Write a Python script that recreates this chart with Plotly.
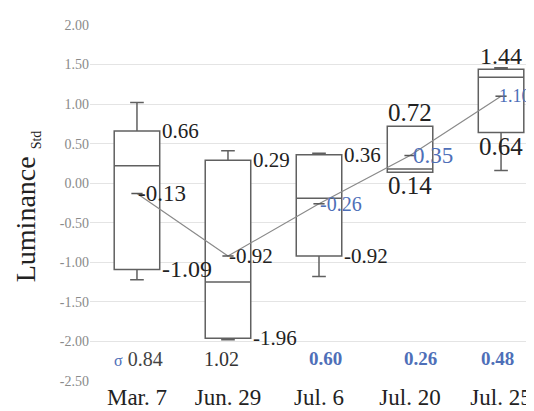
import plotly.graph_objects as go

# ---------------- data ----------------
categories = ["Mar. 7", "Jun. 29", "Jul. 6", "Jul. 20", "Jul. 25"]
q1 = [-1.09, -1.96, -0.92, 0.14, 0.64]
median = [0.22, -1.25, -0.19, 0.18, 1.34]
q3 = [0.66, 0.29, 0.36, 0.72, 1.44]
lower_whisker = [-1.22, -1.98, -1.18, 0.14, 0.16]
upper_whisker = [1.02, 0.41, 0.38, 0.72, 1.46]
means = [-0.13, -0.92, -0.26, 0.35, 1.10]
sigma = [0.84, 1.02, 0.60, 0.26, 0.48]
y_ticks = [2.0, 1.5, 1.0, 0.5, 0.0, -0.5, -1.0, -1.5, -2.0, -2.5]

# ---------------- styles ----------------
SERIF = "Liberation Serif"
BLUE = "#4e6fb8"
DARK = "#222222"
xpos = list(range(len(categories)))

fig = go.Figure()

fig.add_trace(go.Box(
    x=xpos, q1=q1, median=median, q3=q3,
    lowerfence=lower_whisker, upperfence=upper_whisker,
    width=0.5, whiskerwidth=0.3, fillcolor="white",
    line=dict(color="#606060", width=1.5),
    boxpoints=False, showlegend=False, hoverinfo="skip",
))

fig.add_trace(go.Scatter(
    x=xpos, y=means, mode="lines+markers",
    line=dict(color="#8a8a8a", width=1.2),
    marker=dict(symbol="line-ew", size=8, line=dict(color="#555555", width=1.5)),
    showlegend=False, hoverinfo="skip",
))

annotations = []

# quartile labels
side_right = [True, True, True, False, False]
q3_fs = [21, 21, 21, 25, 24]
q1_fs = [24, 21, 21, 25, 25]
for i in xpos:
    if side_right[i]:
        annotations.append(dict(x=i + 0.25, y=q3[i], xref="x", yref="y", text=f"{q3[i]:.2f}",
                                showarrow=False, xanchor="left", yanchor="middle", xshift=0,
                                font=dict(family=SERIF, size=q3_fs[i], color=DARK)))
        annotations.append(dict(x=i + 0.25, y=q1[i], xref="x", yref="y", text=f"{q1[i]:.2f}",
                                showarrow=False, xanchor="left", yanchor="middle", xshift=0,
                                font=dict(family=SERIF, size=q1_fs[i], color=DARK)))
    else:
        annotations.append(dict(x=i, y=q3[i], xref="x", yref="y", text=f"{q3[i]:.2f}",
                                showarrow=False, xanchor="center", yanchor="bottom", yshift=-2,
                                font=dict(family=SERIF, size=q3_fs[i], color=DARK)))
        annotations.append(dict(x=i, y=q1[i], xref="x", yref="y", text=f"{q1[i]:.2f}",
                                showarrow=False, xanchor="center", yanchor="top", yshift=2,
                                font=dict(family=SERIF, size=q1_fs[i], color=DARK)))

# mean labels
mean_colors = [DARK, DARK, BLUE, BLUE, BLUE]
mean_fs = [23, 21, 20, 23, 18]
mean_xshift = [-1, -1, -1, 1, -4]
for i in xpos:
    annotations.append(dict(x=i, y=means[i], xref="x", yref="y", text=f"{means[i]:.2f}",
                            showarrow=False, xanchor="left", yanchor="middle",
                            xshift=mean_xshift[i],
                            font=dict(family=SERIF, size=mean_fs[i], color=mean_colors[i])))

# sigma row
sig_colors = ["#444444", "#333333", BLUE, BLUE, BLUE]
sig_bold = [False, False, True, True, True]
sig_shift = [2, -6, 6, 10, -4]
for i in xpos:
    t = f"{sigma[i]:.2f}"
    if sig_bold[i]:
        t = f"<b>{t}</b>"
    if i == 0:
        t = f"<span style='color:{BLUE};font-size:16px'>σ</span> " + t
    annotations.append(dict(x=i, y=-2.22, xref="x", yref="y", text=t, showarrow=False,
                            xanchor="center", yanchor="middle", xshift=sig_shift[i],
                            font=dict(family=SERIF, size=19 if sig_bold[i] else 20, color=sig_colors[i])))

# y-axis title
annotations.append(dict(x=-0.14, y=0.49, xref="paper", yref="paper",
                        text="Luminance <sub><span style='font-size:14px'>Std</span></sub>",
                        textangle=-90, showarrow=False, xanchor="center", yanchor="middle",
                        font=dict(family=SERIF, size=28, color=DARK)))

fig.update_layout(
    width=534, height=411,
    margin=dict(l=82, r=0, t=17, b=38),
    paper_bgcolor="white", plot_bgcolor="white",
    annotations=annotations,
    xaxis=dict(range=[-0.516, 4.45], tickvals=xpos, ticktext=categories,
               tickfont=dict(family=SERIF, size=23, color=DARK), automargin=False,
               showgrid=False, zeroline=False, showline=False, ticks=""),
    yaxis=dict(range=[-2.5, 2.0], tickvals=y_ticks, ticktext=[f"{v:.2f}" for v in y_ticks],
               tickfont=dict(family=SERIF, size=14, color="#8a8a8a"), automargin=False,
               showgrid=True, gridcolor="#e4e4e4", gridwidth=1,
               zeroline=False, showline=False, ticks=""),
)

fig.write_html("out.html")
